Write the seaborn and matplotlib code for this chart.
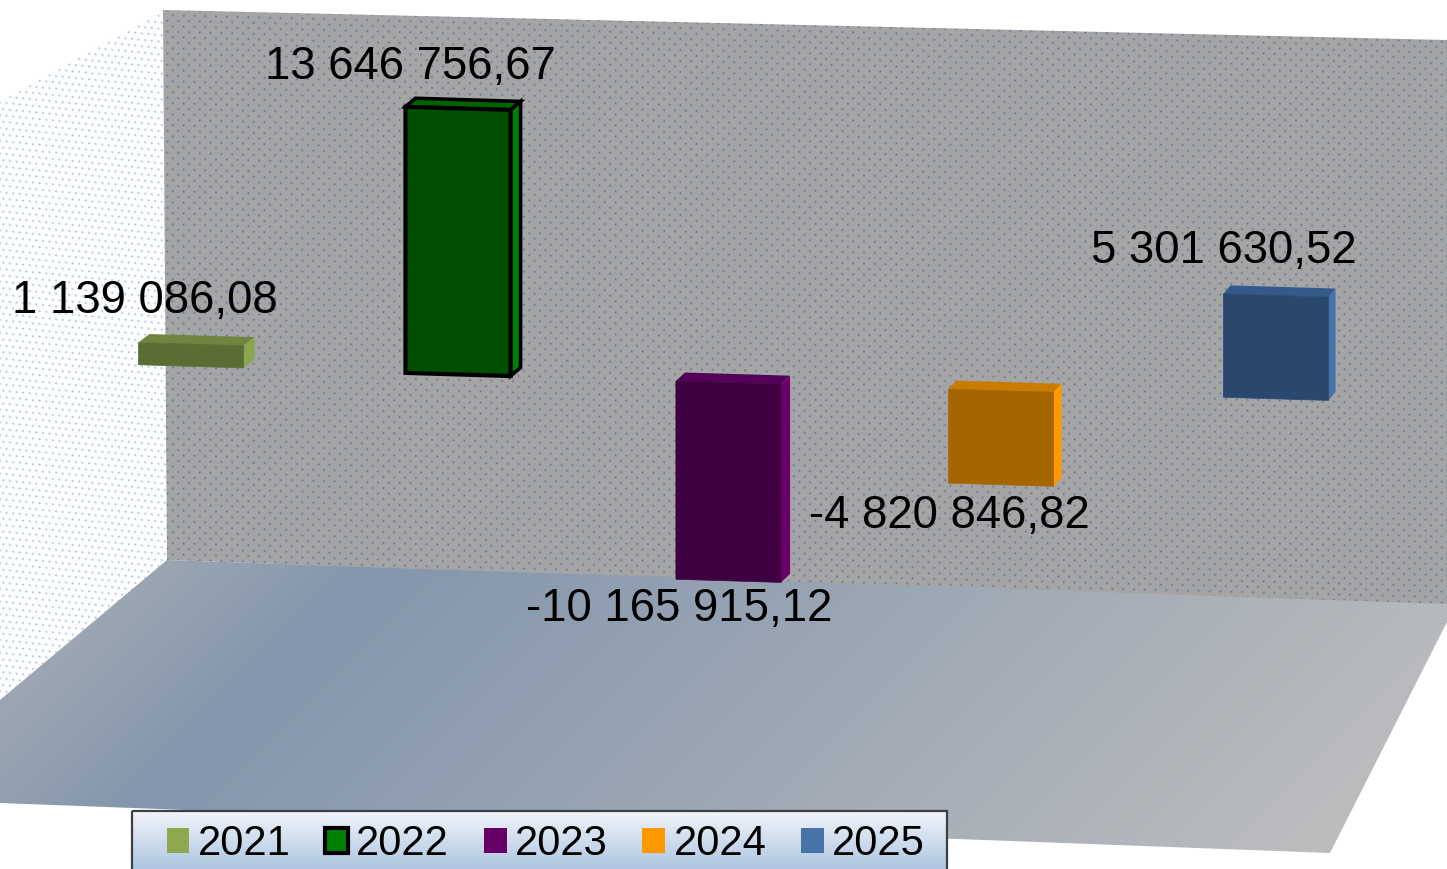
import numpy as np
import matplotlib
matplotlib.use("Agg")
import matplotlib.pyplot as plt
import matplotlib.patches as mpatches
from matplotlib.colors import to_rgb
from matplotlib.transforms import Affine2D, IdentityTransform
import seaborn as sns

years = ["2021", "2022", "2023", "2024", "2025"]
values = [1139086.08, 13646756.67, -10165915.12, -4820846.82, 5301630.52]
front_colors = ["#5a6d33", "#004f00", "#3e0040", "#a56500", "#2a476e"]
top_colors = ["#6f8540", "#006400", "#54005a", "#c97c00", "#335a8a"]
side_colors = ["#8aa64f", "#008000", "#6a006a", "#ff9900", "#4573a8"]
legend_colors = ["#8ea84f", "#008000", "#660066", "#ff9900", "#4674a9"]

W, H = 1447, 869
PX_PER_MILLION = 19.5
SHEAR = 0.03
DEPTH_Y = 8.5

sns.set_theme(style="white")
plt.rcParams["font.family"] = ["Liberation Sans", "DejaVu Sans"]

fig = plt.figure(figsize=(W / 100, H / 100), dpi=100)
ax = fig.add_axes([0, 0, 1, 1])

# pixel coordinates of the picture, y going down
px = Affine2D().scale(1, -1).translate(0, H)
yy, xx = np.mgrid[0:H, 0:W] + 0.5


def dots(step_x, step_y, slope, sigma):
    # staggered soft dots, returned as alpha 0..1
    v = (yy - slope * xx) / step_y
    row = np.round(v)
    u = xx / step_x + 0.5 * (row % 2)
    d2 = ((u - np.round(u)) * step_x) ** 2 + ((v - row) * step_y) ** 2
    return np.exp(-d2 / (2 * sigma ** 2))


def show_clipped(rgb, poly):
    im = ax.imshow(rgb, extent=(0, W, 0, H), origin="upper", aspect="auto",
                   transform=IdentityTransform(), zorder=0, interpolation="bilinear")
    im.set_clip_path(mpatches.Polygon(poly, closed=True, transform=px))
    return im


def ramp(t, stops, colors):
    cols = np.array([to_rgb(c) for c in colors])
    return np.dstack([np.interp(t, stops, cols[:, i]) for i in range(3)])


# left wall, white with small blue dots
a = dots(6.6, 6.4, 0.1, 0.75)[..., None] * 0.55
left = (1 - a) * np.ones((H, W, 3)) + a * np.array(to_rgb("#5f8fd0"))
show_clipped(left, [(163, 10), (0, 102), (0, 700), (167, 560)])

# back wall, grey with darker dots
a = dots(10.8, 5.5, 0.025, 0.8)[..., None] * 0.7
back = (1 - a) * np.array(to_rgb("#a6a6a6")) + a * np.array(to_rgb("#4f6b95"))
show_clipped(back, [(163, 10), (1447, 40), (1447, 606), (167, 560)])

# floor gradient
t = xx + yy
floor = ramp(t, [720, 940, 1500, 2150], ["#9ba6b2", "#8496ad", "#9ca7b4", "#bbbcbe"])
show_clipped(floor, [(167, 560), (1447, 604), (1447, 622), (1330, 853), (0, 803), (0, 700)])

# bars, pushed into perspective with a shear and small x shifts
nudge_x = [0, -4, -4.5, -3, 1]
depth_x = [11, 10, 9, 8, 7]
for i, (year, val) in enumerate(zip(years, values)):
    edge = "black" if year == "2022" else front_colors[i]
    sns.barplot(x=[year], y=[val / 1e6], order=years, color=front_colors[i], saturation=1,
                width=0.388, errorbar=None, edgecolor=edge,
                linewidth=3 if year == "2022" else 0.5, zorder=3, ax=ax)

ax.set_xlim(-191 / 271, (W - 191) / 271)
ax.set_ylim((360.6 - H) / PX_PER_MILLION, 360.6 / PX_PER_MILLION)

for i, bar in enumerate(ax.patches):
    tr = ax.transData + Affine2D.from_values(1, -SHEAR, 0, 1, nudge_x[i], 0)
    bar.set_transform(tr)
    x0, x1 = bar.get_x(), bar.get_x() + bar.get_width()
    y0, y1 = sorted((bar.get_y(), bar.get_y() + bar.get_height()))
    tl, tr_, br = tr.transform([(x0, y1), (x1, y1), (x1, y0)])
    shift = np.array([depth_x[i], DEPTH_Y])
    edge = "black" if years[i] == "2022" else "none"
    lw = 2.6 if years[i] == "2022" else 0
    top = [tl, tr_, tr_ + shift, tl + shift]
    side = [tr_, br, br + shift, tr_ + shift]
    ax.add_patch(mpatches.Polygon(top, closed=True, facecolor=top_colors[i], edgecolor=edge,
                                  linewidth=lw, transform=IdentityTransform(), zorder=2))
    ax.add_patch(mpatches.Polygon(side, closed=True, facecolor=side_colors[i], edgecolor=edge,
                                  linewidth=lw, transform=IdentityTransform(), zorder=2))

# data labels
label_pos = [(145, 301), (410, 67), (679, 609), (949, 516), (1224, 251)]
for val, (lx, ly) in zip(values, label_pos):
    txt = f"{val:,.2f}".replace(",", " ").replace(".", ",")
    ax.text(lx, ly, txt, transform=px, ha="center", va="center", fontsize=32.8,
            color="black", zorder=6)

# legend box
bx0, bx1, by0 = 132, 947, 811
box = ramp(yy, [by0, 869], ["#f2f5fb", "#aec5e0"])
im = ax.imshow(box, extent=(0, W, 0, H), origin="upper", aspect="auto",
               transform=IdentityTransform(), zorder=4)
im.set_clip_path(mpatches.Rectangle((bx0, by0), bx1 - bx0, 80, transform=px))
ax.add_patch(mpatches.Rectangle((bx0, by0), bx1 - bx0, 80, facecolor="none", edgecolor="#3c3f44",
                                linewidth=1.6, transform=px, zorder=4.5))

handles = [mpatches.Patch(facecolor=c, edgecolor="black" if y == "2022" else c,
                          linewidth=3 if y == "2022" else 0)
           for y, c in zip(years, legend_colors)]
ax.legend(handles, years, ncol=5, loc="center left", bbox_to_anchor=(166.5, 844),
          bbox_transform=px, frameon=False, fontsize=30, handlelength=0.55, handleheight=0.53,
          handletextpad=0.2, columnspacing=0.83, borderpad=0, borderaxespad=0, labelcolor="black")

ax.set_xlim(-191 / 271, (W - 191) / 271)
ax.set_ylim((360.6 - H) / PX_PER_MILLION, 360.6 / PX_PER_MILLION)
ax.axis("off")

fig.savefig("out.png", dpi=100, facecolor="white")
